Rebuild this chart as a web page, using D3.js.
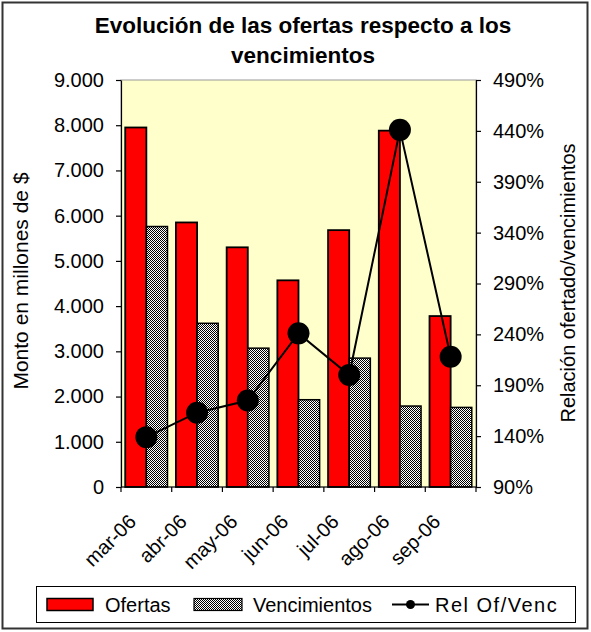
<!DOCTYPE html>
<html>
<head>
<meta charset="utf-8">
<script src="https://cdn.jsdelivr.net/npm/d3@7"></script>
<style>
  html, body { margin: 0; padding: 0; background: #fff; }
  svg { display: block; font-family: Arial, "Liberation Sans", sans-serif; }
</style>
</head>
<body>
<svg id="chart" width="591" height="632"></svg>
<script>
const months = ["mar-06", "abr-06", "may-06", "jun-06", "jul-06", "ago-06", "sep-06"];
const ofertas = [7950, 5850, 5300, 4570, 5680, 7880, 3780];
const vencimientos = [5760, 3620, 3070, 1930, 2850, 1790, 1760];
const relacion = [139, 163, 175, 241, 200, 441, 218];
const leftTicks = [0, 1000, 2000, 3000, 4000, 5000, 6000, 7000, 8000, 9000];
const rightTicks = [90, 140, 190, 240, 290, 340, 390, 440, 490];
const seriesNames = ["Ofertas", "Vencimientos", "Rel Of/Venc"];
const titleLines = ["Evolución de las ofertas respecto a los", "vencimientos"];
const yTitle = "Monto en millones de $";
const y2Title = "Relación ofertado/vencimientos";

const svg = d3.select("#chart");
const plot = { left: 121, right: 476, top: 80, bottom: 487 };
const fontSize = 20;

// outer frame
svg.append("rect").attr("x", 2.5).attr("y", 2.5).attr("width", 585).attr("height", 626)
  .attr("fill", "#fff").attr("stroke", "#333").attr("stroke-width", 2);

// pattern
const defs = svg.append("defs");
const pat = defs.append("pattern").attr("id", "checker").attr("patternUnits", "userSpaceOnUse")
  .attr("width", 2).attr("height", 2);
pat.append("rect").attr("width", 2).attr("height", 2).attr("fill", "#fff");
pat.append("rect").attr("x", 0).attr("y", 0).attr("width", 1).attr("height", 1).attr("fill", "#000");
pat.append("rect").attr("x", 1).attr("y", 1).attr("width", 1).attr("height", 1).attr("fill", "#000");

// scales
const x0 = d3.scaleBand().domain(months).range([plot.left, plot.right]).padding(0);
const x1 = d3.scaleBand().domain(["Ofertas", "Vencimientos"]).range([0, x0.bandwidth()])
  .paddingInner(0).paddingOuter(0.2);
const y = d3.scaleLinear().domain([0, 9000]).range([plot.bottom, plot.top]);
const y2 = d3.scaleLinear().domain([90, 490]).range([plot.bottom, plot.top]);

// plot background
svg.append("rect").attr("x", plot.left).attr("y", plot.top)
  .attr("width", plot.right - plot.left).attr("height", plot.bottom - plot.top)
  .attr("fill", "#FFFFCC").attr("stroke", "#999").attr("stroke-width", 1);

// bars
const g = svg.append("g");
g.selectAll("rect.of").data(ofertas).join("rect").attr("class", "of")
  .attr("x", (d, i) => x0(months[i]) + x1("Ofertas"))
  .attr("y", d => y(d))
  .attr("width", x1.bandwidth())
  .attr("height", d => y(0) - y(d))
  .attr("fill", "#FF0000").attr("stroke", "#000").attr("stroke-width", 1.8);
g.selectAll("rect.ve").data(vencimientos).join("rect").attr("class", "ve")
  .attr("x", (d, i) => x0(months[i]) + x1("Vencimientos"))
  .attr("y", d => y(d))
  .attr("width", x1.bandwidth())
  .attr("height", d => y(0) - y(d))
  .attr("fill", "url(#checker)").attr("stroke", "#000").attr("stroke-width", 1.5);

// axes
const axL = svg.append("g").attr("transform", `translate(${plot.left},0)`)
  .call(d3.axisLeft(y).tickValues(leftTicks).tickSizeInner(5).tickSizeOuter(0)
    .tickPadding(12).tickFormat(d => d3.format(",")(d).replace(/,/g, ".")));
axL.selectAll("text").attr("font-size", fontSize).attr("fill", "#000").attr("font-family", "Arial, 'Liberation Sans', sans-serif");
axL.selectAll("line, path").attr("stroke", "#000").attr("stroke-width", 1.2);

const axR = svg.append("g").attr("transform", `translate(${plot.right},0)`)
  .call(d3.axisRight(y2).tickValues(rightTicks).tickSizeInner(5).tickSizeOuter(0)
    .tickPadding(12).tickFormat(d => d + "%"));
axR.selectAll("text").attr("font-size", fontSize).attr("fill", "#000").attr("font-family", "Arial, 'Liberation Sans', sans-serif");
axR.selectAll("line, path").attr("stroke", "#000").attr("stroke-width", 1.2);

// x axis: ticks at category boundaries
const axB = svg.append("g");
axB.append("line").attr("x1", plot.left).attr("x2", plot.right)
  .attr("y1", plot.bottom).attr("y2", plot.bottom).attr("stroke", "#000").attr("stroke-width", 1.2);
const bounds = months.map(m => x0(m)).concat([x0(months[months.length - 1]) + x0.step()]);
axB.selectAll("line.tk").data(bounds).join("line").attr("class", "tk")
  .attr("x1", d => d).attr("x2", d => d)
  .attr("y1", plot.bottom).attr("y2", plot.bottom + 5)
  .attr("stroke", "#000").attr("stroke-width", 1.2);
axB.selectAll("text").data(months).join("text")
  .attr("transform", d => `translate(${x0(d) + x0.bandwidth() / 2 - 9},${plot.bottom + 36}) rotate(-45)`)
  .attr("text-anchor", "end")
  .attr("font-size", fontSize)
  .text(d => d);

// line
const line = d3.line().x((d, i) => x0(months[i]) + x0.bandwidth() / 2).y(d => y2(d));
svg.append("path").datum(relacion).attr("d", line)
  .attr("fill", "none").attr("stroke", "#000").attr("stroke-width", 2);
svg.selectAll("circle.pt").data(relacion).join("circle").attr("class", "pt")
  .attr("cx", (d, i) => x0(months[i]) + x0.bandwidth() / 2)
  .attr("cy", d => y2(d))
  .attr("r", 11).attr("fill", "#000");

// titles
svg.selectAll("text.title").data(titleLines).join("text").attr("class", "title")
  .attr("x", 303).attr("y", (d, i) => 33 + i * 30)
  .attr("text-anchor", "middle").attr("font-weight", "bold").attr("font-size", 22.5)
  .text(d => d);

svg.append("text").attr("transform", `translate(28,281) rotate(-90)`)
  .attr("text-anchor", "middle").attr("font-size", 21).text(yTitle);
svg.append("text").attr("transform", `translate(575,283) rotate(-90)`)
  .attr("text-anchor", "middle").attr("font-size", fontSize).text(y2Title);

// legend
const leg = svg.append("g");
leg.append("rect").attr("x", 36.5).attr("y", 586.5).attr("width", 539).attr("height", 36)
  .attr("fill", "#fff").attr("stroke", "#000").attr("stroke-width", 1);
const ly = 604.5;
leg.append("rect").attr("x", 47).attr("y", ly - 6).attr("width", 46).attr("height", 12)
  .attr("fill", "#FF0000").attr("stroke", "#000").attr("stroke-width", 1.5);
leg.append("text").attr("x", 105).attr("y", ly + 7).attr("font-size", fontSize).text(seriesNames[0]);
leg.append("rect").attr("x", 194).attr("y", ly - 6).attr("width", 48).attr("height", 12)
  .attr("fill", "url(#checker)").attr("stroke", "#000").attr("stroke-width", 1.2);
leg.append("text").attr("x", 253).attr("y", ly + 7).attr("font-size", fontSize).text(seriesNames[1]);
leg.append("line").attr("x1", 392).attr("x2", 429).attr("y1", ly).attr("y2", ly)
  .attr("stroke", "#000").attr("stroke-width", 2);
leg.append("circle").attr("cx", 410.5).attr("cy", ly).attr("r", 4.5).attr("fill", "#000");
leg.append("text").attr("x", 435).attr("y", ly + 7).attr("font-size", fontSize)
  .attr("letter-spacing", 1.5).text(seriesNames[2]);
</script>
</body>
</html>
